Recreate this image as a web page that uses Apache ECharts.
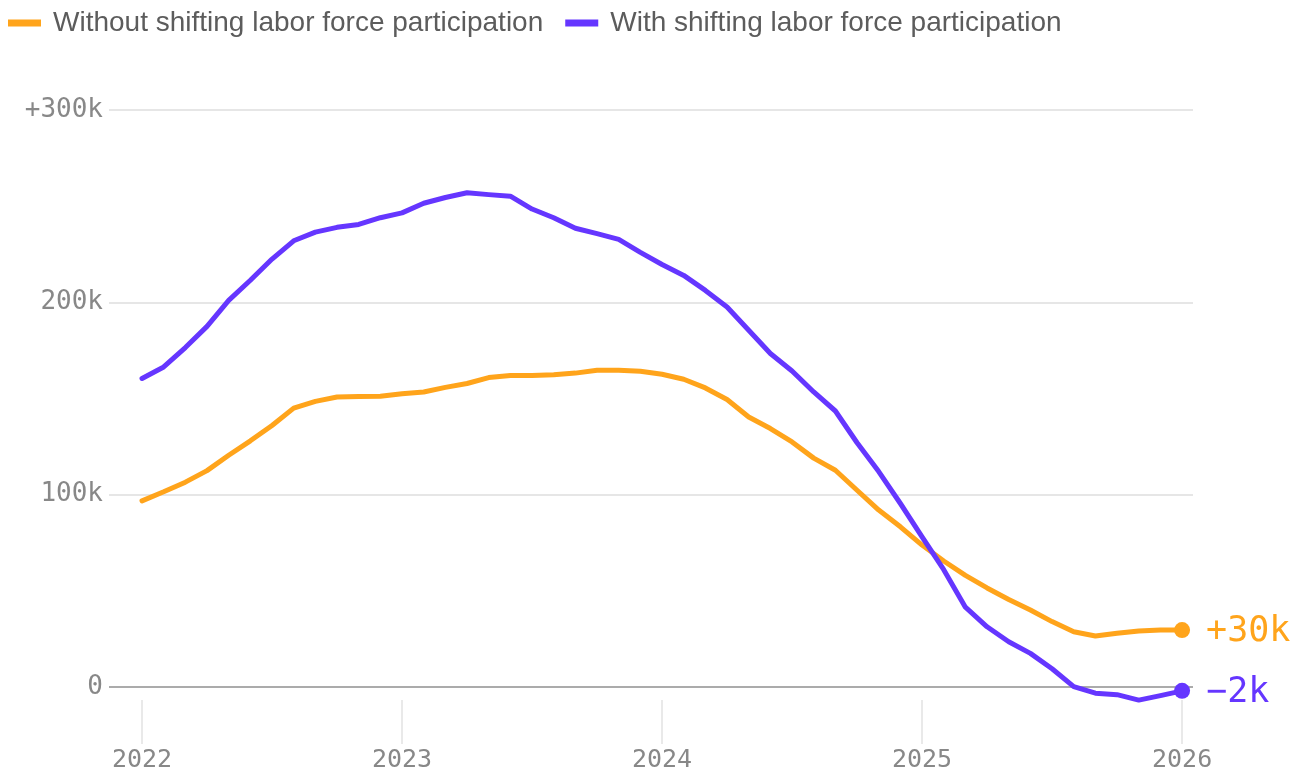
<!DOCTYPE html>
<html>
<head>
<meta charset="utf-8">
<script src="https://cdn.jsdelivr.net/npm/echarts@6/dist/echarts.min.js"></script>
<style>
    html, body { margin: 0; padding: 0; background: #fff; }
    #mainChart { width: 1305px; height: 769px; }
</style>
</head>
<body>
<div id="mainChart"></div>
<script>
// monthly, Jan 2022 .. Jan 2026, in thousands
const startYear = 2022
const yearTicks = [2022, 2023, 2024, 2025, 2026]
const valueTicks = [0, 100, 200, 300]

const withoutShift = [
    96.8, 101.5, 106.5, 112.5, 120.5, 128, 136, 145, 148.5, 150.8, 151, 151.2,
    152.5, 153.4, 155.8, 157.8, 160.9, 162, 162, 162.4, 163.2, 164.7, 164.7, 164.2,
    162.6, 160, 155.5, 149.5, 140.4, 134.4, 127.4, 119, 112.7, 102.3, 92, 83.3,
    73.8, 65.5, 58, 51.5, 45.5, 40, 34, 28.7, 26.5, 27.9, 29.1, 29.6,
    29.6
]
const withShift = [
    160.4, 166.4, 176.5, 187.5, 201, 211.5, 222.5, 232, 236.5, 239, 240.5, 244,
    246.5, 251.5, 254.5, 257, 256, 255.2, 248.5, 244, 238.5, 235.7, 232.7, 226,
    219.7, 214, 206.2, 197.6, 185.5, 173.4, 164.3, 153.4, 143.5, 127, 112, 95.4,
    78, 61, 41.5, 31.3, 23.5, 17.5, 9.5, 0.2, -3.2, -4, -6.8, -4.5,
    -2
]

const seriesNames = ['Without shifting labor force participation', 'With shifting labor force participation']
const endLabels = ['+30k', '−2k']

const orange = '#FFA41B'
const purple = '#6536FF'
const mono = '"DejaVu Sans Mono", "Liberation Mono", monospace'

const toPoints = (arr) => arr.map((v, i) => [startYear + i / 12, v])

const makeSeries = (name, arr, color, label) => ({
    name: name,
    type: 'line',
    data: toPoints(arr),
    clip: false,
    showSymbol: true,
    showAllSymbol: true,
    symbol: 'circle',
    symbolSize: (v, p) => p.dataIndex === arr.length - 1 ? 16 : 0,
    lineStyle: { color: color, width: 5, join: 'round', cap: 'round' },
    itemStyle: { color: color },
    emphasis: { disabled: true },
    endLabel: {
        show: true,
        formatter: label,
        color: color,
        fontFamily: mono,
        fontSize: 35,
        distance: 24,
        offset: [0, 2]
    }
})

var myChart = echarts.init(document.getElementById('mainChart'))

var option = {
    animation: false,
    backgroundColor: '#fff',
    legend: {
        left: 8,
        top: 9,
        padding: 0,
        icon: 'rect',
        itemWidth: 33,
        itemHeight: 7,
        itemGap: 22,
        textStyle: {
            fontFamily: '"Liberation Sans", Arial, sans-serif',
            fontSize: 28,
            color: '#5c5c5c',
            padding: [0, 0, 0, 7]
        },
        data: seriesNames
    },
    grid: {
        left: 109,
        right: 112,
        top: 110,
        bottom: 82,
        containLabel: false,
        outerBoundsMode: 'none'
    },
    xAxis: {
        type: 'value',
        min: 2021.873,
        max: 2026.042,
        axisLine: { show: false },
        splitLine: { show: false },
        axisTick: {
            show: true,
            customValues: yearTicks,
            length: 57,
            // gap of 13px below the zero line, then a 44px tick
            lineStyle: { color: '#e2e2e2', width: 1.5, type: [0, 13, 44, 1000] }
        },
        axisLabel: {
            customValues: yearTicks,
            formatter: (v) => String(Math.round(v)),
            margin: 61,
            color: '#888',
            fontFamily: mono,
            fontSize: 25
        }
    },
    yAxis: {
        type: 'value',
        min: 0,
        max: 300,
        interval: 100,
        axisLine: { show: false },
        axisTick: { show: false },
        axisLabel: {
            margin: 6,
            color: '#888',
            fontFamily: mono,
            fontSize: 26,
            formatter: (v) => v === 0 ? '0' : (v === 300 ? '+300k' : v + 'k')
        },
        splitLine: {
            lineStyle: { color: ['#8f8f8f', '#dedede', '#dedede', '#dedede'], width: 1.5 }
        }
    },
    series: [
        makeSeries(seriesNames[0], withoutShift, orange, endLabels[0]),
        makeSeries(seriesNames[1], withShift, purple, endLabels[1])
    ]
}

myChart.setOption(option)
</script>
</body>
</html>
